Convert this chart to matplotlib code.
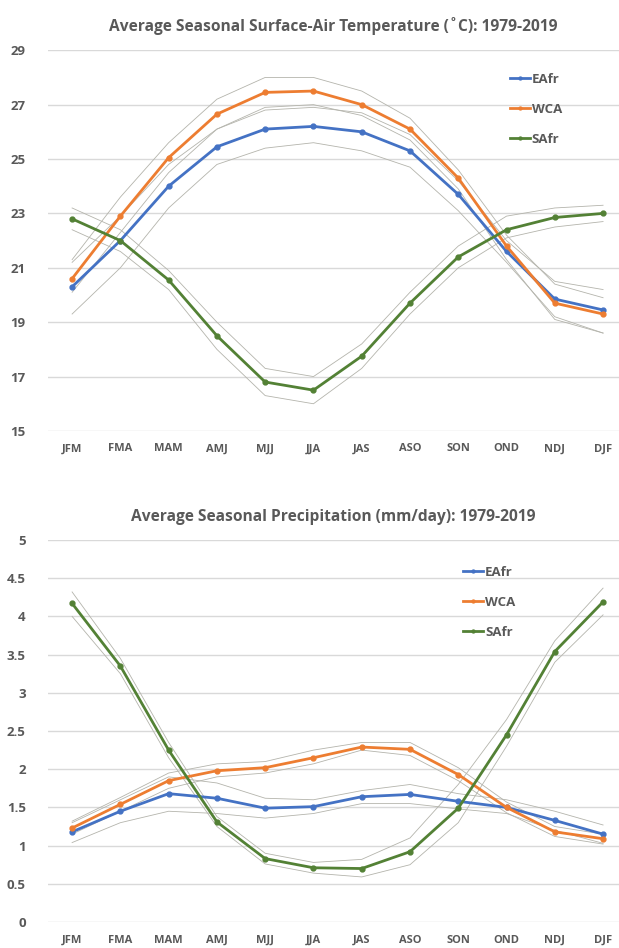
import matplotlib.pyplot as plt

plt.rcParams['font.family'] = ['Open Sans', 'DejaVu Sans']

seasons = ['JFM', 'FMA', 'MAM', 'AMJ', 'MJJ', 'JJA', 'JAS', 'ASO', 'SON', 'OND', 'NDJ', 'DJF']
regions = ['EAfr', 'WCA', 'SAfr']
colors = ['#4472C4', '#ED7D31', '#538135']

# temperature (deg C)
t_eafr = [20.3, 22.0, 24.0, 25.45, 26.1, 26.2, 26.0, 25.3, 23.7, 21.6, 19.85, 19.45]
t_wca = [20.6, 22.9, 25.05, 26.65, 27.45, 27.5, 27.0, 26.1, 24.3, 21.8, 19.7, 19.3]
t_safr = [22.8, 22.0, 20.55, 18.5, 16.8, 16.5, 17.75, 19.7, 21.4, 22.4, 22.85, 23.0]
t_eafr_hi = [21.2, 22.9, 24.8, 26.1, 26.8, 26.9, 26.7, 25.9, 24.2, 22.0, 20.5, 20.2]
t_eafr_lo = [19.3, 21.0, 23.2, 24.8, 25.4, 25.6, 25.3, 24.7, 23.1, 21.2, 19.2, 18.6]
t_wca_hi = [21.3, 23.6, 25.6, 27.2, 28.0, 28.0, 27.5, 26.5, 24.6, 22.2, 20.4, 19.9]
t_wca_lo = [20.1, 22.3, 24.5, 26.1, 26.9, 27.0, 26.6, 25.7, 23.9, 21.3, 19.1, 18.6]
t_safr_hi = [23.2, 22.4, 20.9, 19.0, 17.3, 17.0, 18.2, 20.1, 21.8, 22.9, 23.2, 23.3]
t_safr_lo = [22.4, 21.6, 20.2, 18.0, 16.3, 16.0, 17.3, 19.3, 21.0, 22.1, 22.5, 22.7]

# precipitation (mm/day)
p_eafr = [1.18, 1.45, 1.68, 1.62, 1.49, 1.51, 1.64, 1.67, 1.58, 1.50, 1.33, 1.15]
p_wca = [1.23, 1.54, 1.85, 1.98, 2.02, 2.15, 2.29, 2.26, 1.93, 1.50, 1.18, 1.09]
p_safr = [4.17, 3.35, 2.25, 1.31, 0.83, 0.71, 0.70, 0.92, 1.49, 2.45, 3.54, 4.19]
p_eafr_hi = [1.30, 1.60, 1.90, 1.82, 1.62, 1.60, 1.72, 1.80, 1.68, 1.60, 1.45, 1.27]
p_eafr_lo = [1.04, 1.30, 1.45, 1.42, 1.36, 1.42, 1.55, 1.55, 1.48, 1.42, 1.20, 1.03]
p_wca_hi = [1.32, 1.63, 1.95, 2.07, 2.10, 2.25, 2.35, 2.35, 2.02, 1.57, 1.25, 1.15]
p_wca_lo = [1.15, 1.45, 1.75, 1.90, 1.95, 2.07, 2.25, 2.18, 1.85, 1.43, 1.12, 1.02]
p_safr_hi = [4.32, 3.45, 2.35, 1.38, 0.90, 0.78, 0.82, 1.10, 1.80, 2.65, 3.68, 4.37]
p_safr_lo = [4.00, 3.25, 2.15, 1.25, 0.76, 0.64, 0.59, 0.75, 1.30, 2.30, 3.40, 4.02]

fig = plt.figure(figsize=(6.19, 9.48), dpi=100)
ax1 = fig.add_axes([0.0775, 0.5454, 0.9225, 0.4016])
ax2 = fig.add_axes([0.0775, 0.0274, 0.9225, 0.403])

x = range(len(seasons))
txtc = '#595959'


def draw(ax, means, his, los, title, tsize, yticks, ylabels, ylim, leg_anchor):
    for m, hi, lo, c, name in zip(means, his, los, colors, regions):
        ax.plot(x, hi, color='#b4b4ac', lw=0.6, zorder=2)
        ax.plot(x, lo, color='#b4b4ac', lw=0.6, zorder=2)
        ax.plot(x, m, color=c, lw=2.0, marker='o', ms=3.5, label=name, zorder=3)
    ax.set_xlim(-0.5, 11.33)
    ax.set_ylim(*ylim)
    ax.set_yticks(yticks)
    ax.set_yticklabels(ylabels)
    ax.set_xticks(list(x))
    ax.set_xticklabels(seasons)
    ax.grid(axis='y', color='#d9d9d9', lw=1)
    ax.set_axisbelow(True)
    for s in ax.spines.values():
        s.set_visible(False)
    ax.tick_params(length=0)
    ax.tick_params(axis='y', labelsize=9.5, labelcolor=txtc, pad=16)
    ax.tick_params(axis='x', labelsize=8, labelcolor=txtc, pad=9)
    for lab in ax.get_xticklabels() + ax.get_yticklabels():
        lab.set_fontweight('bold')
    ax.set_title(title, fontsize=tsize, fontweight='bold', color=txtc, pad=14)
    leg = ax.legend(loc='upper left', bbox_to_anchor=leg_anchor, frameon=False,
                    fontsize=9.5, labelspacing=1.3, handlelength=1.5,
                    handletextpad=0.15, markerscale=0.6, borderaxespad=0)
    for t in leg.get_texts():
        t.set_color(txtc)
        t.set_fontweight('bold')


draw(ax1, [t_eafr, t_wca, t_safr], [t_eafr_hi, t_wca_hi, t_safr_hi],
     [t_eafr_lo, t_wca_lo, t_safr_lo],
     'Average Seasonal Surface-Air Temperature (˚C): 1979-2019', 11.2,
     [15, 17, 19, 21, 23, 25, 27, 29], ['15', '17', '19', '21', '23', '25', '27', '29'],
     (15, 29), (0.80, 0.955))

draw(ax2, [p_eafr, p_wca, p_safr], [p_eafr_hi, p_wca_hi, p_safr_hi],
     [p_eafr_lo, p_wca_lo, p_safr_lo],
     'Average Seasonal Precipitation (mm/day): 1979-2019', 11.2,
     [0, 0.5, 1, 1.5, 2, 2.5, 3, 3.5, 4, 4.5, 5],
     ['0', '0.5', '1', '1.5', '2', '2.5', '3', '3.5', '4', '4.5', '5'],
     (0, 5), (0.718, 0.947))

fig.savefig('out.png', dpi=100)
